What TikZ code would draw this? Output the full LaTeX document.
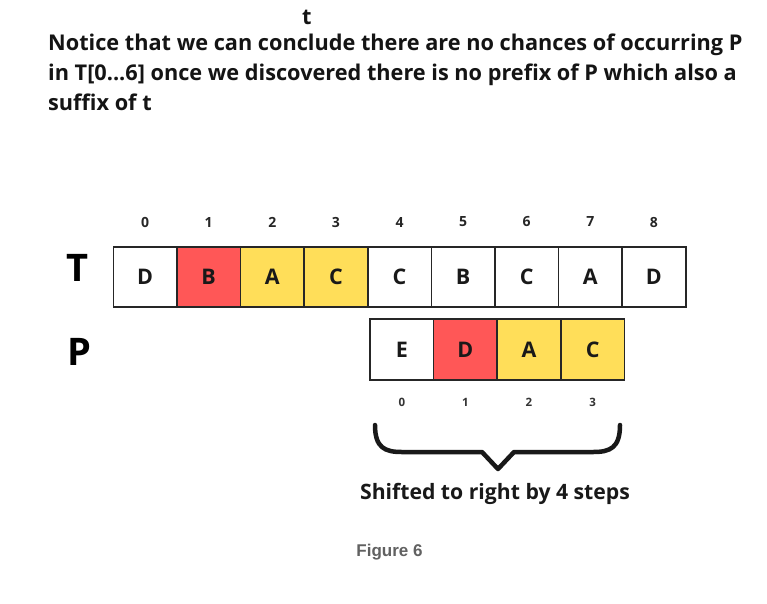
\documentclass[tikz,border=0pt]{standalone}
\usepackage{fontspec}
\setmainfont{Open Sans}
\newfontfamily\capfont{Liberation Sans}
\begin{document}
\begin{tikzpicture}[x=1pt,y=-1pt,
  cellbox/.style={draw=black!85, line width=1.6pt, minimum width=63.6pt, minimum height=60.5pt, inner sep=0pt, font=\fontsize{21.5}{21.5}\selectfont\bfseries, text=black!90},
  redc/.style={fill=cred},
  yelc/.style={fill=cyel},
  idx/.style={font=\fontsize{14}{14}\selectfont\bfseries, text=black!85},
  pidx/.style={font=\fontsize{11.5}{11.5}\selectfont\bfseries, text=black!80},
  rowlab/.style={font=\fontsize{38}{38}\selectfont\bfseries, text=black},
  bodytext/.style={anchor=base west, inner sep=0pt, font=\fontsize{21.7}{21.7}\selectfont\bfseries, text=black!92}
]
\definecolor{cred}{HTML}{FF5757}
\definecolor{cyel}{HTML}{FFDE59}
\useasboundingbox[fill=white] (0,0) rectangle (767,603);

% top text
\node[bodytext] (tt) at (302,24.5) {t};
\node[bodytext] (l1) at (48,50) {Notice that we can conclude there are no chances of occurring P};
\node[bodytext] (l2) at (48,80) {in T[0...6] once we discovered there is no prefix of P which also a};
\node[bodytext] (l3) at (48,110) {suffix of t};

% row labels
\node[rowlab] (labT) at (78,268) {T};
\node[rowlab] (labP) at (79,352) {P};

% T row
\foreach \i/\c/\s in {0/D/,1/B/redc,2/A/yelc,3/C/yelc,4/C/,5/B/,6/C/,7/A/,8/D/}{
  \node[cellbox,\s] (T\i) at ({113.3+31.8+63.6*\i},277) {\c};
  \node[idx] (Ti\i) at ({113.3+31.8+63.6*\i},222) {\i};
}
% P row
\foreach \i/\c/\s in {0/E/,1/D/redc,2/A/yelc,3/C/yelc}{
  \node[cellbox,\s] (P\i) at ({370+31.8+63.6*\i},349.5) {\c};
  \node[pidx] (Pi\i) at ({370+31.8+63.6*\i},402) {\i};
}

% brace
\coordinate (bl) at (375,425);
\coordinate (br) at (620,425);
\coordinate (btip) at (498,469);
\draw[line width=4.5pt, line cap=round, line join=round, black!90]
  (bl) .. controls (375,448) and (385,452) .. (402,452) -- (482,452) -- (btip) -- (514,452) -- (593,452)
  .. controls (610,452) and (620,448) .. (br);

\node[font=\fontsize{21.2}{21.2}\selectfont\bfseries, text=black!90] (shift) at (495,494) {Shifted to right by 4 steps};
\node[font=\capfont\fontsize{17}{17}\selectfont\bfseries, text=black!62] (fig) at (389.5,552) {Figure 6};
\end{tikzpicture}
\end{document}
